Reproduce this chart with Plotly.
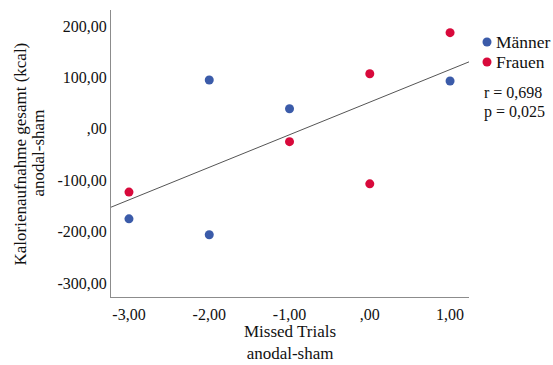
import numpy as np
import plotly.graph_objects as go

# Missed trials difference (anodal - sham) vs. total calorie intake difference
maenner_x = [-3, -2, -2, -1, 1]
maenner_y = [-175, 95, -206, 39, 93]
frauen_x = [-3, -1, 0, 0, 1]
frauen_y = [-123, -25, 107, -107, 187]

x_ticks = [-3, -2, -1, 0, 1]
x_tick_labels = ["-3,00", "-2,00", "-1,00", ",00", "1,00"]
y_ticks = [200, 100, 0, -100, -200, -300]
y_tick_labels = ["200,00", "100,00", ",00", "-100,00", "-200,00", "-300,00"]

group_names = ["Männer", "Frauen"]
x_title = "Missed Trials<br>anodal-sham"
y_title_lines = ["Kalorienaufnahme gesamt (kcal)", "anodal-sham"]
r_text = "r = 0,698"
p_text = "p = 0,025"

x_range = [-3.224, 1.236]
y_range = [-327, 231]

FONT = "Liberation Serif"
TEXT = "#111111"
BLUE = "#3b5ba9"
RED = "#d8093b"

# Linear fit over all participants
all_x = np.array(maenner_x + frauen_x, dtype=float)
all_y = np.array(maenner_y + frauen_y, dtype=float)
slope, intercept = np.polyfit(all_x, all_y, 1)
fit_x = np.array(x_range)
fit_y = intercept + slope * fit_x

fig = go.Figure()
fig.add_trace(go.Scatter(
    x=fit_x, y=fit_y, mode="lines",
    line=dict(color="#555555", width=1),
    showlegend=False, hoverinfo="skip",
))
fig.add_trace(go.Scatter(
    x=maenner_x, y=maenner_y, mode="markers", name=group_names[0],
    marker=dict(color=BLUE, size=9), showlegend=False,
))
fig.add_trace(go.Scatter(
    x=frauen_x, y=frauen_y, mode="markers", name=group_names[1],
    marker=dict(color=RED, size=9), showlegend=False,
))

shapes = []
annotations = []

# Key to the right of the plot area: dot + label per group, then statistics
for name, color, ypos in zip(group_names, [BLUE, RED], [0.8885, 0.8188]):
    shapes.append(dict(
        type="circle", xref="paper", yref="paper",
        xsizemode="pixel", ysizemode="pixel",
        xanchor=1.0, yanchor=ypos, x0=13.5, x1=22.5, y0=-4.5, y1=4.5,
        fillcolor=color, line=dict(width=0),
    ))
    annotations.append(dict(
        text=name, xref="paper", yref="paper", x=1.0, y=ypos,
        xanchor="left", yanchor="middle", xshift=25, showarrow=False,
        font=dict(family=FONT, size=17.5, color=TEXT),
    ))
for txt, ypos in [(r_text, 0.711), (p_text, 0.645)]:
    annotations.append(dict(
        text=txt, xref="paper", yref="paper", x=1.0, y=ypos,
        xanchor="left", yanchor="middle", xshift=13, showarrow=False,
        font=dict(family=FONT, size=16, color=TEXT),
    ))

# Axis titles
annotations.append(dict(
    text=x_title, xref="paper", yref="paper", x=0.5, y=-0.157,
    xanchor="center", yanchor="middle", showarrow=False, borderpad=0,
    font=dict(family=FONT, size=17, color=TEXT),
))
for txt, xpos in zip(y_title_lines, [-0.2514, -0.2039]):
    annotations.append(dict(
        text=txt, xref="paper", yref="paper", x=xpos, y=0.5,
        xanchor="center", yanchor="middle", textangle=-90, showarrow=False,
        font=dict(family=FONT, size=17, color=TEXT),
    ))

fig.update_layout(
    width=553, height=365,
    margin=dict(l=111, r=84, t=10, b=68),
    paper_bgcolor="white", plot_bgcolor="white",
    font=dict(family=FONT, size=16, color=TEXT),
    showlegend=False,
    shapes=shapes,
    annotations=annotations,
    xaxis=dict(
        range=x_range, tickmode="array", tickvals=x_ticks, ticktext=x_tick_labels,
        showgrid=False, zeroline=False, showline=True, linecolor="#8c8c8c", linewidth=1,
        ticks="", ticklabelstandoff=3, automargin=False,
        tickfont=dict(family=FONT, size=16, color=TEXT),
    ),
    yaxis=dict(
        range=y_range, tickmode="array", tickvals=y_ticks, ticktext=y_tick_labels,
        showgrid=False, zeroline=False, showline=True, linecolor="#8c8c8c", linewidth=1,
        ticks="", automargin=False,
        tickfont=dict(family=FONT, size=16, color=TEXT),
    ),
)

fig.write_html("out.html")
